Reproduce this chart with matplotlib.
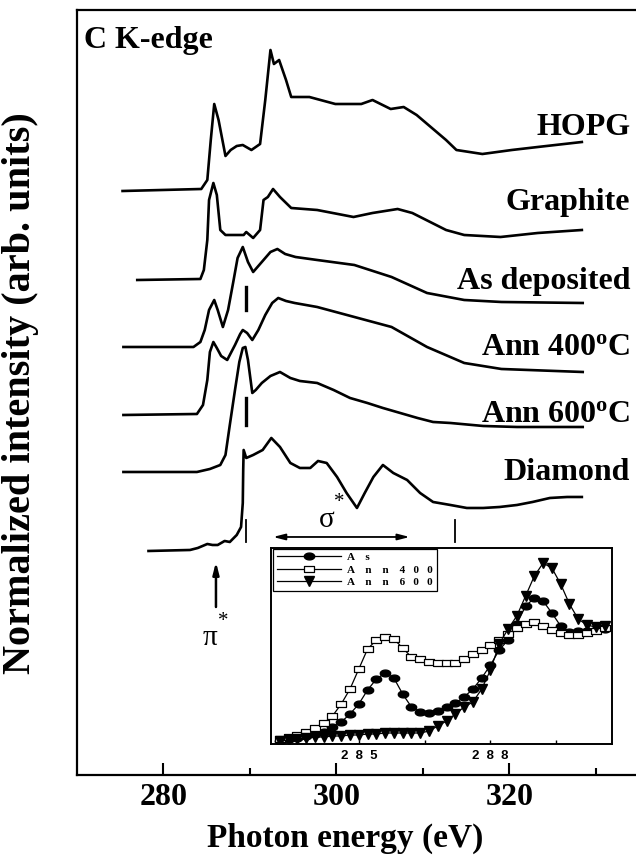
import numpy as np
import matplotlib
matplotlib.use("Agg")
import matplotlib.pyplot as plt

plt.rcParams['font.family'] = ['Liberation Serif', 'DejaVu Serif']
plt.rcParams['mathtext.fontset'] = 'custom'
plt.rcParams['mathtext.rm'] = 'Liberation Serif'
plt.rcParams['mathtext.bf'] = 'Liberation Serif:bold'
plt.rcParams['mathtext.it'] = 'Liberation Serif:italic'

# ---------------- main spectra (energy eV, intensity arb.) ----------------
hopg_e = [275.3, 284.4, 285.1, 285.5, 285.9, 286.4, 287.2, 287.8, 288.5, 289.2, 290.2, 291.2,
          291.8, 292.4, 292.8, 293.4, 294.2, 294.8, 296.9, 299.9, 302.9, 304.2, 306.3, 307.8,
          309.3, 312.7, 313.9, 316.9, 320.3, 323.3, 328.4]
hopg_i = [0, 2, 11, 51, 87, 71, 35, 41, 45, 46, 41, 47,
          91, 141, 127, 131, 111, 94, 94, 87, 87, 91, 82, 84,
          76, 51, 41, 37, 41, 44, 49]

graph_e = [277.0, 284.3, 284.7, 285.1, 285.3, 285.8, 286.2, 286.6, 287.2, 289.3, 289.6, 290.4,
           291.2, 291.6, 292.1, 292.7, 293.5, 294.8, 297.8, 302.0, 304.2, 307.1, 308.8, 312.7,
           314.8, 319.0, 323.3, 328.4]
graph_i = [0, 1, 10, 40, 80, 97, 85, 50, 45, 45, 48, 42,
           50, 80, 83, 91, 83, 72, 70, 63, 67, 71, 67, 50,
           45, 43, 47, 50]

asdep_e = [275.4, 283.5, 284.3, 284.8, 285.3, 285.9, 286.3, 286.9, 287.5, 288.1, 288.6, 289.2,
           289.8, 290.4, 291.4, 292.4, 293.2, 294.1, 295.3, 297.8, 302.1, 306.4, 310.5, 314.8,
           319.1, 328.5]
asdep_i = [0, 0, 5, 17, 37, 47, 37, 20, 37, 65, 89, 100,
           85, 75, 85, 95, 98, 93, 90, 87, 82, 70, 54, 47,
           45, 44]

ann400_e = [275.4, 283.9, 284.6, 285.1, 285.4, 285.8, 286.2, 286.7, 287.4, 288.3, 288.9, 289.2,
            289.7, 290.3, 291.0, 291.8, 292.6, 293.3, 294.2, 295.2, 297.8, 302.1, 306.4, 310.5,
            314.8, 319.1, 328.5]
ann400_i = [0, 1, 10, 35, 63, 73, 67, 59, 55, 70, 81, 85,
            82, 75, 85, 100, 112, 117, 114, 112, 108, 98, 88, 68,
            52, 46, 43]

ann600_e = [275.4, 283.9, 285.4, 286.6, 287.2, 287.7, 288.3, 288.8, 289.2, 289.5, 289.8, 290.3,
            290.7, 291.4, 292.4, 293.5, 294.7, 295.8, 297.8, 299.7, 301.6, 303.6, 305.4, 307.4,
            309.4, 311.2, 313.2, 317.0, 320.9, 328.5]
ann600_i = [0, 0, 3, 7, 17, 47, 82, 110, 124, 125, 112, 79,
            82, 89, 96, 100, 94, 91, 89, 82, 74, 69, 64, 59,
            54, 50, 49, 46, 45, 45]

dia_e = [278.3, 283.1, 284.0, 285.1, 285.7, 286.3, 287.1, 287.7, 288.5, 289.0, 289.2, 289.25,
         289.3, 289.6, 290.4, 291.5, 292.5, 293.5, 294.7, 295.8, 297.0, 297.9, 298.9, 300.1,
         301.2, 302.4, 303.3, 304.3, 305.4, 306.6, 308.2, 309.7, 311.2, 313.2, 315.1, 317.0,
         318.9, 320.9, 322.7, 324.7, 326.7, 328.4]
dia_i = [0, 1, 3, 7, 6, 6, 10, 9, 16, 24, 48, 81,
         101, 93, 96, 101, 113, 104, 88, 83, 83, 90, 88, 74,
         58, 43, 58, 74, 86, 78, 71, 58, 49, 46, 43, 43,
         44, 46, 49, 53, 54, 54]

spectra_names = ['HOPG', 'Graphite', 'As deposited', r'Ann 400$^{\mathbf{o}}$C',
                 r'Ann 600$^{\mathbf{o}}$C', 'Diamond']
offsets = [584, 495, 428, 360, 303, 224]
label_y = [647, 572, 493, 427, 360, 302]

# ---------------- inset data ----------------
inset_e = [283.2, 283.4, 283.6, 283.8, 284.0, 284.2, 284.4, 284.6, 284.8, 285.0, 285.2, 285.4,
           285.6, 285.8, 286.0, 286.2, 286.4, 286.6, 286.8, 287.0, 287.2, 287.4, 287.6, 287.8,
           288.0, 288.2, 288.4, 288.6, 288.8, 289.0, 289.2, 289.4, 289.6, 289.8, 290.0, 290.2,
           290.4, 290.6]
as_i = [3, 5, 6, 8, 10, 12, 17, 22, 30, 40, 54, 65, 71, 66, 50, 37, 32, 31, 33, 37, 41, 47,
        55, 66, 79, 94, 104, 120, 138, 146, 143, 131, 118, 112, 113, 113, 114, 115]
a400_i = [5, 7, 9, 12, 16, 21, 28, 40, 55, 75, 95, 104, 107, 105, 96, 87, 85, 82, 81, 81, 81, 85,
          90, 94, 99, 104, 110, 116, 120, 122, 118, 114, 111, 109, 109, 111, 113, 116]
a600_i = [3, 4, 5, 6, 7, 7, 8, 8, 9, 9, 10, 10, 11, 11, 11, 11, 11, 13, 18, 23, 30, 37,
          42, 55, 74, 100, 115, 128, 148, 168, 181, 176, 160, 140, 125, 119, 117, 118]
inset_labels = ['A    s', 'A    n    n    4   0   0', 'A    n    n    6   0   0']
inset_ticks = [285, 288]
inset_ticklabels = ['2  8  5', '2  8  8']

main_major = [280, 300, 320]
main_minor = [290, 310, 330]

# ---------------- figure ----------------
fig = plt.figure(figsize=(6.36, 8.55), dpi=100)
ax = fig.add_axes([0.1206, 0.0936, 0.8794, 0.8947])
ax.set_xlim(270, 334.66)
ax.set_ylim(0, 765)

series = [(hopg_e, hopg_i), (graph_e, graph_i), (asdep_e, asdep_i),
          (ann400_e, ann400_i), (ann600_e, ann600_i), (dia_e, dia_i)]
for (e, i), off in zip(series, offsets):
    ax.plot(e, np.array(i) + off, color='black', lw=1.9, solid_joinstyle='round')

for name, ly in zip(spectra_names, label_y):
    ax.text(334.0, ly, name, ha='right', va='center', fontsize=23, fontweight='bold')

ax.text(270.9, 735, 'C K-edge', ha='left', va='center', fontsize=23, fontweight='bold')

# marker bars
ax.plot([289.57, 289.57], [465, 488], color='black', lw=2.4)
ax.plot([289.57, 289.57], [350, 377], color='black', lw=2.4)
ax.plot([289.57, 289.57], [233, 255], color='black', lw=1.3)
ax.plot([313.7, 313.7], [233, 255], color='black', lw=1.3)

# sigma* arrow
ax.annotate('', xy=(292.7, 238), xytext=(308.5, 238),
            arrowprops=dict(arrowstyle='<|-|>,head_length=0.7,head_width=0.18',
                            color='black', lw=1.3, shrinkA=0, shrinkB=0))
ax.text(298.9, 255, 'σ', ha='center', va='center', fontsize=21)
ax.text(300.3, 272, '*', ha='center', va='center', fontsize=15)

# pi* arrow
ax.annotate('', xy=(286.1, 213), xytext=(286.1, 168),
            arrowprops=dict(arrowstyle='-|>,head_length=0.7,head_width=0.18',
                            color='black', lw=1.8, shrinkA=0, shrinkB=0))
ax.text(285.4, 137, 'π', ha='center', va='center', fontsize=21)
ax.text(286.9, 153, '*', ha='center', va='center', fontsize=15)

ax.set_xticks(main_major)
ax.set_xticks(main_minor, minor=True)
ax.set_yticks([])
ax.tick_params(axis='x', which='major', direction='in', length=9, width=1.5, pad=6,
               labelsize=23, top=False)
ax.tick_params(axis='x', which='minor', direction='in', length=5, width=1.5, top=False)
for lab in ax.get_xticklabels():
    lab.set_fontweight('bold')
for s in ['left', 'bottom', 'top']:
    ax.spines[s].set_linewidth(1.6)
ax.spines['right'].set_visible(False)

fig.text(0.543, 0.02, 'Photon energy (eV)', ha='center', va='center', fontsize=24,
         fontweight='bold')
fig.text(0.032, 0.54, 'Normalized intensity (arb. units)', ha='center', va='center',
         rotation=90, fontsize=29, fontweight='bold')

# ---------------- inset ----------------
ins = fig.add_axes([0.4261, 0.1298, 0.5362, 0.2292])
ins.set_xlim(283.0, 290.77)
ins.set_ylim(0, 196)
t = np.linspace(0, 2 * np.pi, 30)
ellipse = np.column_stack([1.3 * np.cos(t), 0.85 * np.sin(t)])
rect = [(-1.4, -0.7), (1.4, -0.7), (1.4, 0.7), (-1.4, 0.7), (-1.4, -0.7)]
ins.plot(inset_e, as_i, color='black', lw=0.9, marker=ellipse, ms=7.5, mfc='black',
         mec='black', label=inset_labels[0])
ins.plot(inset_e, a400_i, color='black', lw=0.9, marker=rect, ms=7.5, mfc='white',
         mec='black', mew=0.9, label=inset_labels[1])
ins.plot(inset_e, a600_i, color='black', lw=0.9, marker='v', ms=7, mfc='black',
         mec='black', label=inset_labels[2])
leg = ins.legend(loc='upper left', bbox_to_anchor=(0.006, 0.997), fontsize=8,
                 handlelength=5.8, handletextpad=0.5, labelspacing=0.22, borderpad=0.35,
                 borderaxespad=0, fancybox=False,
                 framealpha=1, edgecolor='black', prop={'weight': 'bold', 'size': 8})
leg.get_frame().set_linewidth(0.9)
ins.set_xticks(inset_ticks)
ins.set_xticks([286.5, 289.5], minor=True)
ins.set_xticklabels(inset_ticklabels, fontfamily='Liberation Sans', fontweight='bold',
                    fontsize=9.5)
ins.set_yticks([])
ins.tick_params(axis='x', which='both', direction='in', length=3, width=1, pad=4)
for s in ins.spines.values():
    s.set_linewidth(1.4)

fig.savefig('out.png', dpi=100)
